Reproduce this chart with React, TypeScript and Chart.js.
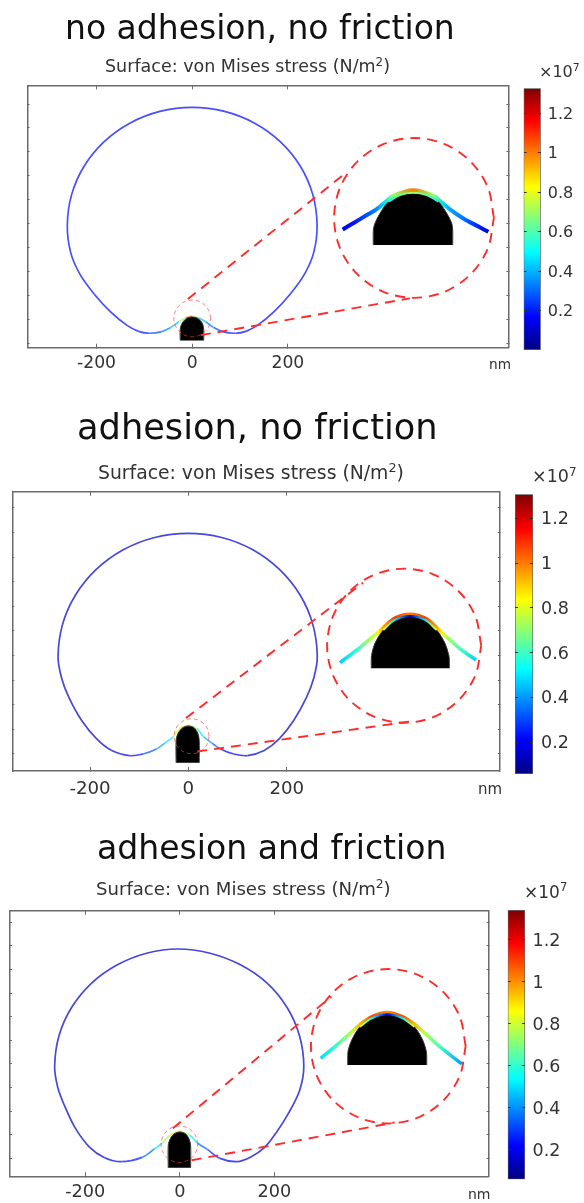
import React, { useEffect, useRef } from "react";
import { Chart, registerables } from "chart.js";

Chart.register(...registerables);

const FONT = '"DejaVu Sans", sans-serif';
const FRAME_COLOR = "#6a6a6a";
const DASH_COLOR = "#ff2b2b";

const xTickValues = [-200, 0, 200];
const yTickValues = [0, 50, 100, 150, 200, 250, 300, 350, 400, 450, 500];
const barTickValues = [0.2, 0.4, 0.6, 0.8, 1, 1.2];

// Panel 1: no adhesion, no friction
const drop1X = [0, -14, -28, -45, -65, -90, -112, -137, -170, -205, -235, -254, -261, -252, -226, -184.5, -130.5, -67.6, 0, 67.6, 130.5, 184.5, 226, 252, 261, 254, 235, 205, 170, 137, 112, 90, 65, 45, 28, 14, 0];
const drop1Y = [57, 53, 45, 33, 24, 21, 25, 38, 65, 103, 145, 190, 247, 310.7, 370, 421, 460, 484.6, 493, 484.6, 460, 421, 370, 310.7, 247, 190, 145, 103, 65, 38, 25, 21, 24, 33, 45, 53, 57];
const drop1S = [1, 0.7, 0.42, 0.34, 0.26, 0.2, 0.18, 0.18, 0.18, 0.18, 0.18, 0.18, 0.18, 0.18, 0.18, 0.18, 0.18, 0.18, 0.18, 0.18, 0.18, 0.18, 0.18, 0.18, 0.18, 0.18, 0.18, 0.18, 0.18, 0.18, 0.18, 0.2, 0.26, 0.34, 0.42, 0.7, 1];
const tip1X = [-25, -25, -21, -12, 0, 12, 21, 24, 24];
const tip1Y = [6, 30, 42, 52, 55, 52, 42, 30, 6];
const inset1TipX = [378.5, 378.5, 382, 392.5, 409.8, 434.3, 462, 490, 514.4, 531.9, 542.3, 544.4, 544.4];
const inset1TipY = [205.4, 236.8, 250.8, 271.7, 296, 310, 314.8, 310, 296, 271.7, 250.8, 236.8, 205.4];
const inset1RimS = [0.45, 0.45, 0.45, 0.45, 0.5, 0.62, 0.72, 0.62, 0.5, 0.45, 0.45, 0.45, 0.45];
const inset1CurveX = [314.5, 340, 365, 385, 400, 420, 462, 504, 524, 540, 566.6, 600, 618.8];
const inset1CurveY = [238, 253, 268, 280, 292, 308, 320, 308, 292, 279, 261, 243, 233];
const inset1CurveS = [0.15, 0.2, 0.27, 0.35, 0.45, 0.7, 1.0, 0.7, 0.45, 0.38, 0.32, 0.2, 0.12];
const smallCircle1 = [0, 52, 38.4];
const bigCircle1 = [463.5, 262, 167];
const upperLine1X = [-9, 321];
const upperLine1Y = [92.6, 356];
const lowerLine1X = [18, 455];
const lowerLine1Y = [17, 94];

// Panel 2: adhesion, no friction
const drop2X = [0, -17, -31, -48, -65, -92, -120, -156, -186, -217, -243, -258, -265, -256, -229.5, -187.4, -132.5, -68.6, 0, 67.8, 131, 185, 227, 253, 262, 255, 240, 214, 184, 154, 120, 92, 65, 48, 31, 17, 0];
const drop2Y = [59, 52, 35, 22, 10, 0, -3.4, 7, 30, 68, 115, 155, 198, 262.9, 323, 375, 415, 440, 448.5, 440, 415, 375, 323, 262.9, 198, 155, 115, 68, 30, 7, -3.4, 0, 10, 22, 35, 52, 59];
const drop2S = [0.9, 0.75, 0.5, 0.42, 0.32, 0.22, 0.18, 0.16, 0.16, 0.16, 0.16, 0.16, 0.16, 0.16, 0.16, 0.16, 0.16, 0.16, 0.16, 0.16, 0.16, 0.16, 0.16, 0.16, 0.16, 0.16, 0.16, 0.16, 0.16, 0.16, 0.18, 0.22, 0.32, 0.42, 0.5, 0.75, 0.9];
const tip2X = [-25, -25, -21, -12, 0, 12, 19, 22, 22];
const tip2Y = [-18, 28, 42, 53, 57, 53, 42, 28, -18];
const inset2TipX = [371.8, 371.8, 373.1, 379.2, 396.1, 419.9, 450.4, 480.9, 504.6, 521.6, 528.3, 530.3, 530.3];
const inset2TipY = [174, 195, 204.6, 225, 252, 272.4, 280.5, 272.4, 252, 225, 204.6, 195, 174];
const inset2RimS = [0.85, 0.85, 0.85, 0.85, 0.8, 0.5, 0.12, 0.5, 0.8, 0.85, 0.85, 0.85, 0.85];
const inset2CurveX = [308, 342, 372, 386, 396, 420, 450, 481, 505, 515, 528, 555.5, 584.6];
const inset2CurveY = [185.6, 211, 236, 247, 257, 276, 284, 276, 257, 247, 235, 211, 191];
const inset2CurveS = [0.47, 0.58, 0.75, 0.85, 0.95, 1.08, 1.0, 1.08, 0.95, 0.85, 0.72, 0.6, 0.47];
const smallCircle2 = [6.5, 36, 35.5];
const bigCircle2 = [438.6, 220, 156.6];
const upperLine2X = [-5, 355];
const upperLine2Y = [73, 348];
const lowerLine2X = [18, 450];
const lowerLine2Y = [5, 66];

// Panel 3: adhesion and friction
const drop3X = [0, -21, -38, -53.5, -80, -124, -160, -191, -221, -244, -258, -264.6, -255.6, -229.2, -187, -132, -68.5, -4, 62, 128, 185, 227, 253, 262, 253.5, 231, 204, 178, 150, 121, 85, 58, 38, 21, 0];
const drop3Y = [58, 49, 32, 20, 2, -7, 2, 24, 64, 112, 150, 195, 259.4, 319, 370.7, 410, 435, 443.5, 435, 410, 370.7, 319, 259.4, 195, 145, 98, 55, 22, 3, -7, 0, 19, 32, 49, 58];
const drop3S = [0.9, 0.75, 0.52, 0.35, 0.25, 0.18, 0.16, 0.16, 0.16, 0.16, 0.16, 0.16, 0.16, 0.16, 0.16, 0.16, 0.16, 0.16, 0.16, 0.16, 0.16, 0.16, 0.16, 0.16, 0.16, 0.16, 0.16, 0.16, 0.16, 0.18, 0.25, 0.35, 0.52, 0.75, 0.9];
const tip3X = [-24.5, -24.5, -20, -12, 0, 12, 19, 22.8, 22.8];
const tip3Y = [-20, 28, 42, 52, 56, 52, 42, 28, -20];
const inset3TipX = [354.8, 354.8, 356, 363.3, 380.8, 405.5, 438.5, 471, 495.6, 513.3, 520.3, 521.8, 521.8];
const inset3TipY = [197.7, 218, 229.4, 250.6, 278.9, 296.6, 305, 296.6, 278.9, 250.6, 229.4, 218, 197.7];
const inset3RimS = [0.9, 0.9, 0.9, 0.9, 0.85, 0.55, 0.18, 0.55, 0.85, 0.9, 0.9, 0.9, 0.9];
const inset3CurveX = [297.7, 331.5, 363.3, 381, 405.5, 438.5, 471, 496, 514.6, 549.9, 595.8];
const inset3CurveY = [212, 240, 268, 284, 300, 309, 300, 284, 268, 236, 200];
const inset3CurveS = [0.5, 0.62, 0.78, 0.95, 1.1, 1.0, 1.1, 0.95, 0.78, 0.62, 0.42];
const smallCircle3 = [-1, 30, 38.7];
const bigCircle3 = [440.6, 237.5, 163.5];
const upperLine3X = [-14.5, 320.5];
const upperLine3Y = [64, 343];
const lowerLine3X = [25, 454];
const lowerLine3Y = [-4, 76];

const ringUnitX = [1, 0.924, 0.707, 0.383, 0, -0.383, -0.707, -0.924, -1, -0.924, -0.707, -0.383, 0, 0.383, 0.707, 0.924, 1];
const ringUnitY = [0, 0.383, 0.707, 0.924, 1, 0.924, 0.707, 0.383, 0, -0.383, -0.707, -0.924, -1, -0.924, -0.707, -0.383, 0];

const panels = [
  {
    title: "no adhesion, no friction", titleLeft: 65, titleY: 27, titleSize: 33,
    subLeft: 105, subY: 67, subSize: 17.5, tickSize: 17.2, barSize: 16, barGap: 7, nmSize: 13.7, expSize: 16, bandWidth: 4,
    xRange: [-344, 660.8], yRange: [-9.2, 539.2], frame: [27.6, 85.3, 508.4, 347.7],
    labelY: 363, nmLeft: 489, nmY: 365,
    drop: [drop1X, drop1Y, drop1S], tip: [tip1X, tip1Y], insetTip: [inset1TipX, inset1TipY], rimS: inset1RimS,
    curve: [inset1CurveX, inset1CurveY, inset1CurveS], small: smallCircle1, big: bigCircle1,
    upper: [upperLine1X, upperLine1Y], lower: [lowerLine1X, lowerLine1Y],
    bar: [523.6, 88.3, 540.8, 350], barRange: [0.0008, 1.327], expLeft: 539, expY: 72,
    top: 0, height: 395,
  },
  {
    title: "adhesion, no friction", titleLeft: 77, titleY: 427, titleSize: 35.2,
    subLeft: 98, subY: 473, subSize: 18.8, tickSize: 18.2, barSize: 17.5, barGap: 8, nmSize: 15, expSize: 17.5, bandWidth: 3.5,
    xRange: [-358, 633], yRange: [-34.6, 533], frame: [12.3, 491.7, 499.8, 771],
    labelY: 788, nmLeft: 478, nmY: 789,
    drop: [drop2X, drop2Y, drop2S], tip: [tip2X, tip2Y], insetTip: [inset2TipX, inset2TipY], rimS: inset2RimS,
    curve: [inset2CurveX, inset2CurveY, inset2CurveS], small: smallCircle2, big: bigCircle2,
    upper: [upperLine2X, upperLine2Y], lower: [lowerLine2X, lowerLine2Y],
    bar: [515, 494.3, 533, 774], barRange: [0.058, 1.307], expLeft: 532, expY: 477,
    top: 395, height: 415,
  },
  {
    title: "adhesion and friction", titleLeft: 97, titleY: 848, titleSize: 33.1,
    subLeft: 96, subY: 889, subSize: 18.1, tickSize: 17.7, barSize: 17.5, barGap: 7.6, nmSize: 14, expSize: 17, bandWidth: 3.5,
    xRange: [-359, 652.6], yRange: [-38, 524.6], frame: [10, 910.7, 488.6, 1176.3],
    labelY: 1192, nmLeft: 468, nmY: 1194,
    drop: [drop3X, drop3Y, drop3S], tip: [tip3X, tip3Y], insetTip: [inset3TipX, inset3TipY], rimS: inset3RimS,
    curve: [inset3CurveX, inset3CurveY, inset3CurveS], small: smallCircle3, big: bigCircle3,
    upper: [upperLine3X, upperLine3Y], lower: [lowerLine3X, lowerLine3Y],
    bar: [507.7, 910, 525, 1179.3], barRange: [0.059, 1.343], expLeft: 524, expY: 892,
    top: 810, height: 393,
  },
];

const JET: [number, number[]][] = [
  [0, [0, 0, 127]],
  [0.125, [0, 0, 255]],
  [0.375, [0, 255, 255]],
  [0.625, [255, 255, 0]],
  [0.875, [255, 0, 0]],
  [1, [127, 0, 0]],
];

function jet(t: number, mix = 0) {
  const v = Math.min(1, Math.max(0, t));
  let i = 0;
  while (i < JET.length - 2 && v > JET[i + 1][0]) i++;
  const [a, ca] = JET[i];
  const [b, cb] = JET[i + 1];
  const f = (v - a) / (b - a);
  const c = ca.map((q, k) => q + (cb[k] - q) * f).map((q) => Math.round(q + (255 - q) * mix));
  return `rgb(${c[0]},${c[1]},${c[2]})`;
}

const pts = (xs: number[], ys: number[]) => xs.map((x, i) => ({ x, y: ys[i] }));
const ring = (c: number[]) => ringUnitX.map((u, i) => ({ x: c[0] + u * c[2], y: c[1] + ringUnitY[i] * c[2] }));

function xGradient(chart: any, xs: number[], ss: number[], low: number, high: number) {
  const sx = chart.scales.x;
  if (!sx || !chart.chartArea) return "#0000ff";
  const a = sx.getPixelForValue(xs[0]);
  const b = sx.getPixelForValue(xs[xs.length - 1]);
  const g = chart.ctx.createLinearGradient(a, 0, b, 0);
  xs.forEach((x, i) => {
    const pos = (sx.getPixelForValue(x) - a) / (b - a);
    g.addColorStop(Math.min(1, Math.max(0, pos)), jet((ss[i] - low) / (high - low)));
  });
  return g;
}

const base = { showLine: true, pointRadius: 0, pointHitRadius: 0, fill: false };

function mainConfig(p: any) {
  const [low, high] = p.barRange;
  const [dx, dy, ds] = p.drop;
  const rimX = p.insetTip[0].slice(4, -4);
  const rimY = p.insetTip[1].slice(4, -4);
  const rimS = p.rimS.slice(4, -4);
  const baseY = p.tip[1][0];
  const insetBaseY = p.insetTip[1][0];
  const dash = { borderColor: DASH_COLOR, borderWidth: 1.9, borderDash: [10, 7] };
  const datasets = [
    { ...base, ...dash, label: "zoom line upper", data: pts(p.upper[0], p.upper[1]), tension: 0 },
    { ...base, ...dash, label: "zoom line lower", data: pts(p.lower[0], p.lower[1]), tension: 0 },
    { ...base, ...dash, label: "zoom circle", data: ring(p.big), tension: 0.33 },
    { ...base, label: "probe circle", data: ring(p.small), tension: 0.33, borderColor: "rgba(255,60,60,0.65)", borderWidth: 1, borderDash: [4, 3] },
    { ...base, label: "inset contact rim", data: pts(rimX, rimY), tension: 0.33, borderWidth: 2,
      borderColor: (c: any) => xGradient(c.chart, rimX, rimS, low, high) },
    { ...base, label: "inset tip", data: pts(p.insetTip[0], p.insetTip[1]), tension: 0.33, borderWidth: 1, borderColor: "#333",
      backgroundColor: "#000", fill: { target: { value: insetBaseY }, above: "#000", below: "#000" } },
    { ...base, label: "inset membrane", data: pts(p.curve[0], p.curve[1]), tension: 0.33, borderWidth: p.bandWidth,
      borderColor: (c: any) => xGradient(c.chart, p.curve[0], p.curve[2], low, high) },
    { ...base, label: "tip", data: pts(p.tip[0], p.tip[1]), tension: 0.3, borderWidth: 1, borderColor: "#333",
      backgroundColor: "#000", fill: { target: { value: baseY }, above: "#000", below: "#000" } },
    { ...base, label: "cell outline", data: pts(dx, dy), tension: 0.33, borderWidth: 1.7, borderColor: "#4a55ff",
      segment: { borderColor: (c: any) => jet((ds[c.p0DataIndex] - low) / (high - low), 0.28) } },
  ];
  const setTicks = (vals: number[]) => (s: any) => { s.ticks = vals.map((value) => ({ value })); };
  const axisCommon = (vals: number[], len: number, pos: string, zero: "width" | "height") => ({
    position: pos,
    afterBuildTicks: setTicks(vals),
    afterFit: (s: any) => { s[zero] = 0; },
    border: { display: true, color: FRAME_COLOR, width: 1.5 },
    grid: { drawOnChartArea: false, drawTicks: true, tickLength: -len, tickColor: FRAME_COLOR, tickWidth: 1 },
  });
  const [left, top, right, bottom] = p.frame;
  const below = p.top + p.height - bottom;
  return {
    type: "scatter",
    data: { datasets },
    options: {
      animation: false,
      responsive: false,
      events: [],
      layout: {
        autoPadding: false,
        padding: { left, top: top - p.top, right: p.barLeftCut - right, bottom: 0 },
      },
      plugins: { legend: { display: false }, tooltip: { enabled: false }, title: { display: false } },
      scales: {
        x: {
          ...axisCommon(xTickValues, 4, "bottom", "height"), type: "linear", min: p.xRange[0], max: p.xRange[1],
          afterFit: (s: any) => { s.height = below; },
          ticks: { autoSkip: false, maxRotation: 0, color: "#333", font: { family: FONT, size: p.tickSize },
            padding: p.labelY - bottom - 6, callback: (v: any) => String(v) },
        },
        x2: { ...axisCommon(xTickValues, 4, "top", "height"), type: "linear", axis: "x", min: p.xRange[0], max: p.xRange[1], ticks: { display: false } },
        y: { ...axisCommon(yTickValues, 2, "left", "width"), type: "linear", min: p.yRange[0], max: p.yRange[1], ticks: { display: false } },
        y2: { ...axisCommon(yTickValues, 2, "right", "width"), type: "linear", axis: "y", min: p.yRange[0], max: p.yRange[1], ticks: { display: false } },
      },
    },
  };
}

function barConfig(p: any, canvasLeft: number) {
  const [low, high] = p.barRange;
  const [l, t, r, b] = p.bar;
  return {
    type: "bar",
    data: {
      labels: ["stress"],
      datasets: [{
        label: "von Mises stress",
        data: [[low, high]],
        barPercentage: 1,
        categoryPercentage: 1,
        borderWidth: 1,
        borderColor: "#666",
        borderSkipped: false,
        backgroundColor: (c: any) => {
          const area = c.chart.chartArea;
          if (!area) return "#00f";
          const g = c.chart.ctx.createLinearGradient(0, area.bottom, 0, area.top);
          JET.forEach(([pos]) => g.addColorStop(pos, jet(pos)));
          return g;
        },
      }],
    },
    options: {
      animation: false,
      responsive: false,
      events: [],
      layout: { autoPadding: false, padding: { left: l - canvasLeft, top: t - p.top, right: 0, bottom: p.top + p.height - b } },
      plugins: { legend: { display: false }, tooltip: { enabled: false } },
      scales: {
        x: { display: false },
        y: {
          position: "right", min: low, max: high, afterFit: (s: any) => { s.width = 584 - r; },
          afterBuildTicks: (s: any) => { s.ticks = barTickValues.map((value) => ({ value })); },
          border: { display: false },
          grid: { drawOnChartArea: false, tickLength: -3, tickColor: "#333", tickWidth: 1, z: 2 },
          ticks: { color: "#333", padding: p.barGap + 3, labelOffset: 1.5, font: { family: FONT, size: p.barSize }, crossAlign: "near", callback: (v: any) => String(v) },
        },
        y3: {
          position: "left", axis: "y", min: low, max: high, afterFit: (s: any) => { s.width = 0; },
          afterBuildTicks: (s: any) => { s.ticks = barTickValues.map((value) => ({ value })); },
          border: { display: false },
          grid: { drawOnChartArea: false, tickLength: -3, tickColor: "#333", tickWidth: 1, z: 2 },
          ticks: { display: false },
        },
      },
    },
  };
}

function Canvas({ config, style, width, height }: any) {
  const ref = useRef<HTMLCanvasElement>(null);
  useEffect(() => {
    const chart = new Chart(ref.current as any, config());
    return () => chart.destroy();
  }, []);
  return <canvas ref={ref} width={width} height={height} style={{ position: "absolute", display: "block", ...style }} />;
}

const textStyle = (left: number, y: number, size: number, color: string): React.CSSProperties => ({
  position: "absolute", left, top: y, transform: "translateY(-50%)", fontFamily: FONT, fontSize: size,
  color, whiteSpace: "nowrap", lineHeight: 1,
});
const supStyle: React.CSSProperties = { fontSize: "0.68em", verticalAlign: "0.55em", lineHeight: 0 };

export default function App() {
  return (
    <div style={{ position: "absolute", left: 0, top: 0, width: 584, height: 1203, overflow: "hidden", background: "#fff", filter: "blur(0.55px)" }}>
      {panels.map((p: any) => {
        const cut = Math.floor(p.bar[0]) - 4;
        const cfg = { ...p, barLeftCut: cut };
        return (
          <React.Fragment key={p.title}>
            <Canvas width={cut} height={p.height} style={{ left: 0, top: p.top }} config={() => mainConfig(cfg)} />
            <Canvas width={584 - cut} height={p.height} style={{ left: cut, top: p.top }} config={() => barConfig(p, cut)} />
            <div style={textStyle(p.titleLeft, p.titleY, p.titleSize, "#111")}>{p.title}</div>
            <div style={textStyle(p.subLeft, p.subY, p.subSize, "#333")}>
              Surface: von Mises stress (N/m<sup style={supStyle}>2</sup>)
            </div>
            <div style={textStyle(p.nmLeft, p.nmY, p.nmSize, "#333")}>nm</div>
            <div style={textStyle(p.expLeft, p.expY, p.expSize, "#333")}>
              ×10<sup style={supStyle}>7</sup>
            </div>
          </React.Fragment>
        );
      })}
    </div>
  );
}
